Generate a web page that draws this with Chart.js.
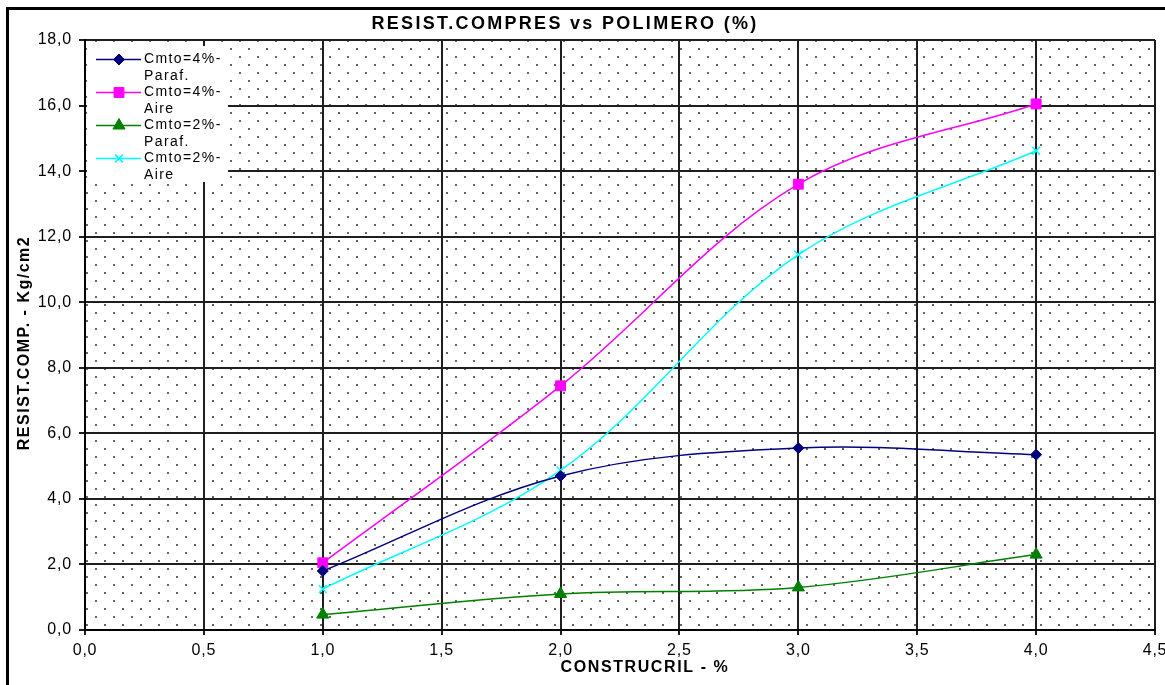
<!DOCTYPE html>
<html>
<head>
<meta charset="utf-8">
<script src="https://cdn.jsdelivr.net/npm/chart.js@4"></script>
<style>
  body { margin: 0; background: #fff; overflow: hidden; }
  #frame { position: absolute; left: 6px; top: 7px; width: 1200px; height: 720px; border: 3px solid #000; }
  #wrap { position: absolute; left: 0; top: 0; width: 1165px; height: 685px; }
</style>
</head>
<body>
<div id="frame"></div>
<div id="wrap"><canvas id="chart" width="1165" height="685"></canvas></div>
<script>
const xValues = [1, 2, 3, 4];
const seriesNames = [
  ["Cmto=4%-", "Paraf."],
  ["Cmto=4%-", "Aire"],
  ["Cmto=2%-", "Paraf."],
  ["Cmto=2%-", "Aire"]
];
const paraf4 = [1.8, 4.7, 5.55, 5.35];
const aire4 = [2.05, 7.45, 13.6, 16.05];
const paraf2 = [0.47, 1.1, 1.3, 2.3];
const aire2 = [1.25, 4.87, 11.45, 14.62];
const xTickLabels = ["0,0", "0,5", "1,0", "1,5", "2,0", "2,5", "3,0", "3,5", "4,0", "4,5"];
const yTickLabels = ["0,0", "2,0", "4,0", "6,0", "8,0", "10,0", "12,0", "14,0", "16,0", "18,0"];
const chartTitle = "RESIST.COMPRES vs POLIMERO (%)";
const xAxisTitle = "CONSTRUCRIL - %";
const yAxisTitle = "RESIST.COMP. - Kg/cm2";

const FONT = "'Liberation Sans', Arial, sans-serif";

function points(values) {
  return xValues.map((x, i) => ({ x: x, y: values[i] }));
}

function series(i, values, color, style, radius) {
  return {
    label: seriesNames[i].join(" "),
    data: points(values),
    borderColor: color,
    backgroundColor: color,
    borderWidth: 1.5,
    pointStyle: style,
    pointRadius: radius,
    pointBorderWidth: style === "crossRot" ? 1.5 : 1,
    tension: 0.35
  };
}

// dotted fill of the plot area
const dotPattern = {
  id: "dotPattern",
  beforeDraw(chart) {
    const { ctx, chartArea: a } = chart;
    const tile = document.createElement("canvas");
    tile.width = 18;
    tile.height = 16;
    const t = tile.getContext("2d");
    t.fillStyle = "#666";
    t.fillRect(10, 0, 2, 2);
    t.fillRect(1, 8, 2, 2);
    ctx.save();
    ctx.translate(a.left, a.top);
    ctx.fillStyle = ctx.createPattern(tile, "repeat");
    ctx.fillRect(0, 0, a.right - a.left, a.bottom - a.top);
    ctx.restore();
    ctx.letterSpacing = "0.8px";
  }
};

// white legend box in the upper left corner of the plot
const boxLegend = {
  id: "boxLegend",
  afterDraw(chart) {
    const ctx = chart.ctx;
    ctx.save();
    ctx.fillStyle = "#fff";
    ctx.fillRect(87, 46, 141, 136);
    ctx.font = "14px " + FONT;
    ctx.letterSpacing = "1.4px";
    ctx.textBaseline = "middle";
    ctx.textAlign = "left";
    chart.data.datasets.forEach((ds, i) => {
      const y = 59.5 + i * 33;
      ctx.strokeStyle = ds.borderColor;
      ctx.fillStyle = ds.backgroundColor;
      ctx.lineWidth = 1.5;
      ctx.beginPath();
      ctx.moveTo(96, y);
      ctx.lineTo(141, y);
      ctx.stroke();
      ctx.lineWidth = ds.pointBorderWidth;
      Chart.helpers.drawPoint(ctx, {
        pointStyle: ds.pointStyle,
        radius: ds.pointRadius,
        borderWidth: ds.pointBorderWidth,
        rotation: 0
      }, 119, y);
      ctx.fillStyle = "#000";
      ctx.fillText(seriesNames[i][0], 144, y);
      ctx.fillText(seriesNames[i][1], 144, y + 16.5);
    });
    ctx.restore();
  }
};

// chart and axis titles
const chartTexts = {
  id: "chartTexts",
  afterDraw(chart) {
    const ctx = chart.ctx;
    ctx.save();
    ctx.fillStyle = "#000";
    ctx.textAlign = "center";
    ctx.textBaseline = "middle";

    ctx.font = "bold 18px " + FONT;
    ctx.letterSpacing = "2.3px";
    ctx.fillText(chartTitle, 565, 24);

    ctx.font = "bold 16px " + FONT;
    ctx.letterSpacing = "1.6px";
    ctx.fillText(xAxisTitle, 645, 668);

    ctx.font = "bold 16px " + FONT;
    ctx.letterSpacing = "1.5px";
    ctx.translate(25, 343);
    ctx.rotate(-Math.PI / 2);
    ctx.fillText(yAxisTitle, 0, 0);
    ctx.restore();
  }
};

new Chart(document.getElementById("chart").getContext("2d"), {
  type: "line",
  data: {
    datasets: [
      series(0, paraf4, "#000080", "rectRot", 5.5),
      series(1, aire4, "#FF00FF", "rect", 7),
      series(2, paraf2, "#008000", "triangle", 7),
      series(3, aire2, "#00FFFF", "crossRot", 5.5)
    ]
  },
  options: {
    responsive: false,
    animation: false,
    devicePixelRatio: 1,
    layout: { padding: { top: 40, right: 10, left: 0, bottom: 0 } },
    plugins: {
      legend: { display: false },
      title: { display: false },
      tooltip: { enabled: false }
    },
    scales: {
      x: {
        type: "linear",
        min: 0,
        max: 4.5,
        ticks: {
          stepSize: 0.5,
          color: "#000",
          font: { size: 16, family: FONT },
          padding: 6,
          maxRotation: 0,
          callback: (value, index) => xTickLabels[index]
        },
        grid: { color: "#1e1e1e", lineWidth: 2, tickLength: 5 },
        border: { color: "#000", width: 2 },
        afterFit(scale) {
          scale.height = 55;
          scale.paddingLeft = 0;
          scale.paddingRight = 0;
        }
      },
      y: {
        min: 0,
        max: 18,
        ticks: {
          stepSize: 2,
          color: "#000",
          font: { size: 16, family: FONT },
          padding: 7,
          callback: (value, index) => yTickLabels[index]
        },
        grid: { color: "#1e1e1e", lineWidth: 2, tickLength: 6 },
        border: { color: "#000", width: 2 },
        afterFit(scale) {
          scale.width = 85;
          scale.paddingTop = 0;
          scale.paddingBottom = 0;
        }
      }
    }
  },
  plugins: [dotPattern, boxLegend, chartTexts]
});
</script>
</body>
</html>
